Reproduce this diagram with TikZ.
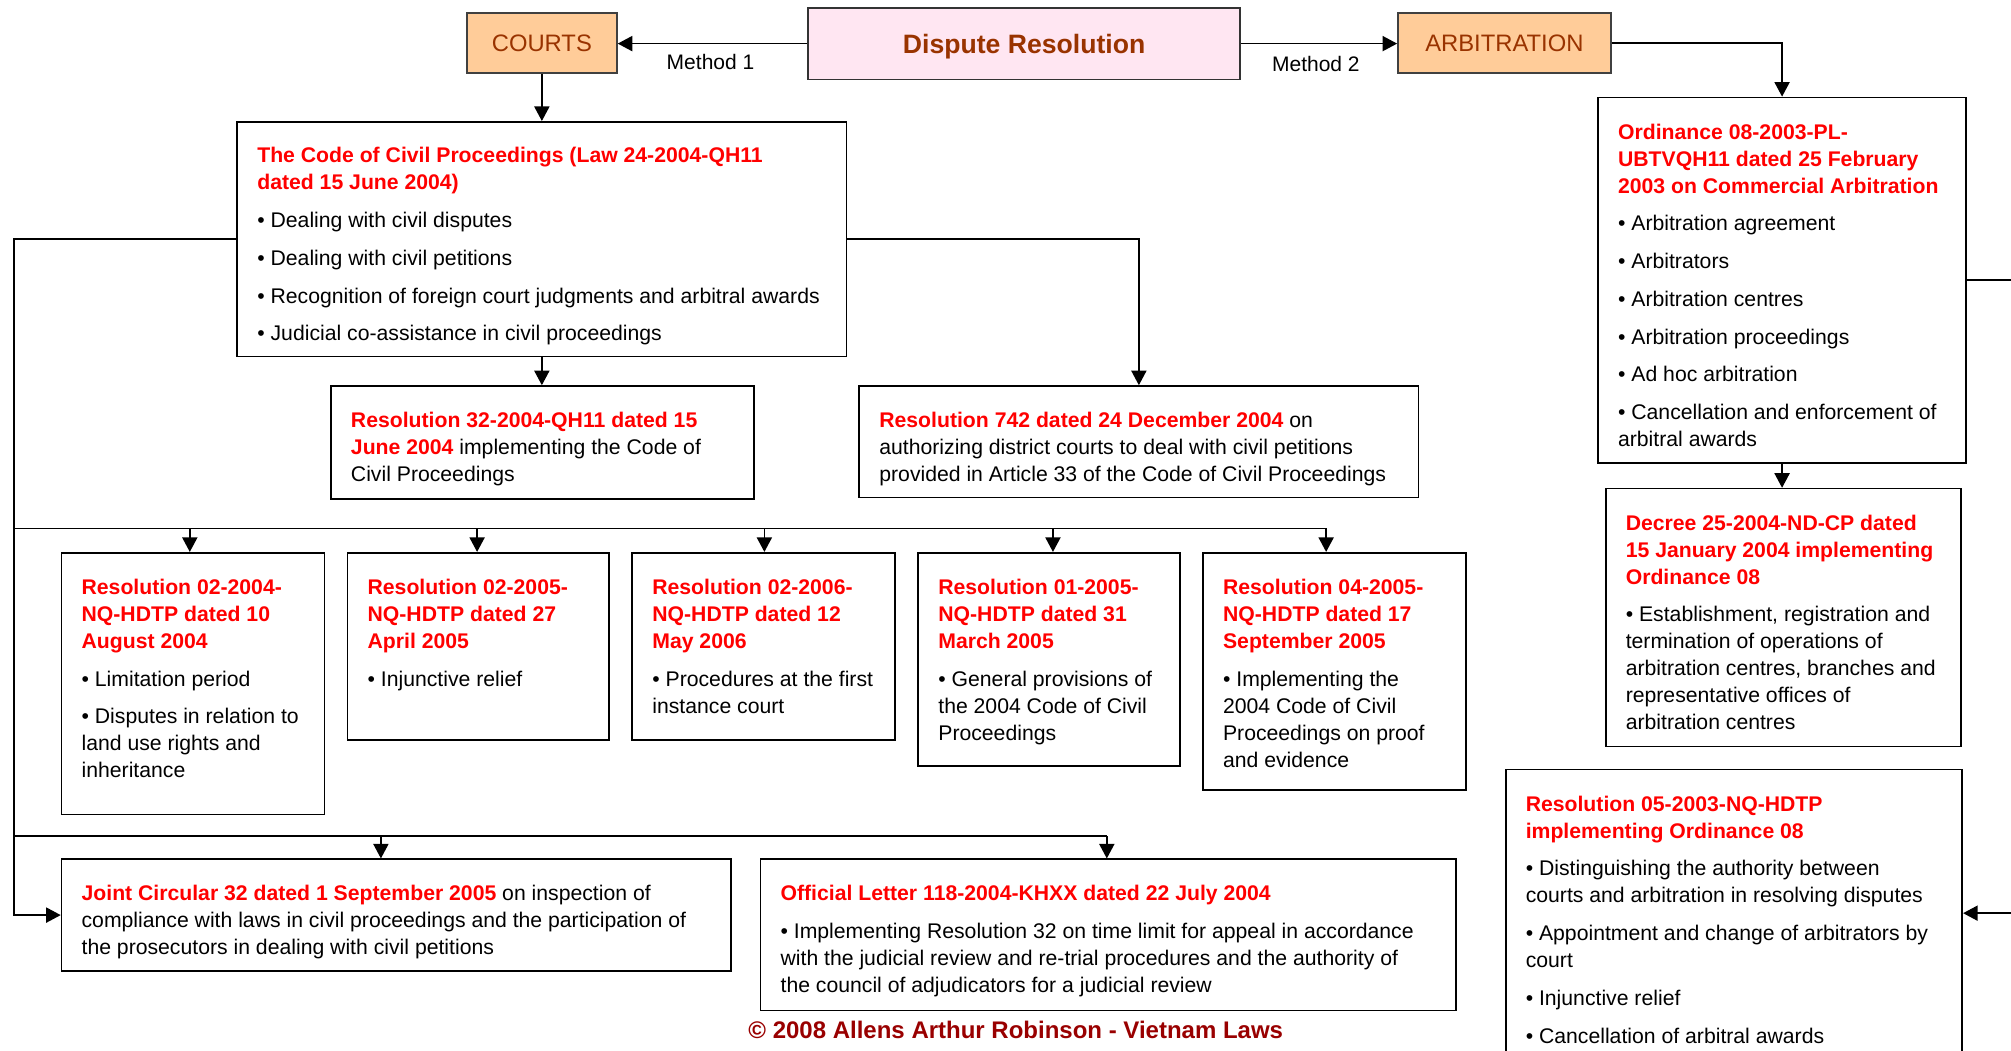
\documentclass[tikz,border=0pt]{standalone}
\usepackage{fontspec}
\setmainfont{Liberation Sans}
\usetikzlibrary{arrows.meta,fit,calc}
\definecolor{lawred}{HTML}{FF0000}
\definecolor{brownt}{HTML}{993300}
\definecolor{orangef}{HTML}{FFCC99}
\definecolor{pinkf}{HTML}{FFE6F2}
\definecolor{copyr}{HTML}{990000}
\newcommand{\redb}[1]{\textcolor{lawred}{\bfseries #1}}
\newcommand{\gp}{\\[5.4pt]}
\begin{document}
\begin{tikzpicture}[x=0.6413pt,y=-0.6413pt,
 box/.style={draw=black, line width=0.85pt, inner sep=0pt},
 hdr/.style={draw=black!75, line width=0.85pt, inner sep=0pt, fill=orangef, text=brownt, font=\fontsize{11.9pt}{14pt}\selectfont},
 txt/.style={inner sep=0pt, align=left, anchor=north west, font=\fontsize{10.6pt}{13.5pt}\selectfont},
 conn/.style={line width=0.75pt, draw=black},
 arr/.style={conn, -{Triangle[length=7.3pt,width=7.6pt]}},
 lbl/.style={font=\fontsize{10.5pt}{12pt}\selectfont, inner sep=0pt}]
\useasboundingbox (0,0) rectangle (1568,819);

% header boxes
\node[hdr, fit={(364,10) (481,57)}] (courts) {};
\node[font=\fontsize{11.9pt}{14pt}\selectfont, text=brownt] at (courts.center) {COURTS};
\node[box, draw=black!80, fill=pinkf, fit={(630,6) (967,62)}] (disp) {};
\node[font=\fontsize{13.3pt}{15pt}\selectfont\bfseries, text=brownt] at ($(disp.center)+(0,2.5)$) {Dispute Resolution};
\node[hdr, fit={(1090,10) (1256,57)}] (arb) {};
\node[font=\fontsize{11.9pt}{14pt}\selectfont, text=brownt] at (arb.center) {ARBITRATION};
\node[lbl] (m1lbl) at (554,48) {Method 1};
\node[lbl] (m2lbl) at (1026,50) {Method 2};

% courts branch boxes
\node[box, fit={(185,95) (660,278)}] (code) {};
\node[box, fit={(258,301) (588,389)}] (res32) {};
\node[box, fit={(670,301) (1106,388)}] (res742) {};
\node[box, fit={(48,431) (253,635)}] (b1) {};
\node[box, fit={(271,431) (475,577)}] (b2) {};
\node[box, fit={(493,431) (698,577)}] (b3) {};
\node[box, fit={(716,431) (920,597)}] (b4) {};
\node[box, fit={(938,431) (1143,616)}] (b5) {};
\node[box, fit={(48,670) (570,757)}] (joint) {};
\node[box, fit={(593,670) (1135,788)}] (off) {};

% arbitration branch boxes
\node[box, fit={(1246,76) (1533,361)}] (ord) {};
\node[box, fit={(1252,381) (1529,582)}] (dec) {};
\node[box, fit={(1174,600) (1530,824)}] (res05) {};

% texts
\node[txt] (codet) at ($(code.north west)+(16,17.5)$) {\strut\redb{The Code of Civil Proceedings (Law 24-2004-QH11}\\\redb{dated 15 June 2004)}\gp
• Dealing with civil disputes\gp
• Dealing with civil petitions\gp
• Recognition of foreign court judgments and arbitral awards\gp
• Judicial co-assistance in civil proceedings};
\node[txt] (res32t) at ($(res32.north west)+(16,18)$) {\strut\redb{Resolution 32-2004-QH11 dated 15}\\\redb{June 2004} implementing the Code of\\Civil Proceedings};
\node[txt] (res742t) at ($(res742.north west)+(16,18)$) {\strut\redb{Resolution 742 dated 24 December 2004} on\\authorizing district courts to deal with civil petitions\\provided in Article 33 of the Code of Civil Proceedings};
\node[txt] (b1t) at ($(b1.north west)+(16,18)$) {\strut\redb{Resolution 02-2004-}\\\redb{NQ-HDTP dated 10}\\\redb{August 2004}\gp
• Limitation period\gp
• Disputes in relation to\\land use rights and\\inheritance};
\node[txt] (b2t) at ($(b2.north west)+(16,18)$) {\strut\redb{Resolution 02-2005-}\\\redb{NQ-HDTP dated 27}\\\redb{April 2005}\gp
• Injunctive relief};
\node[txt] (b3t) at ($(b3.north west)+(16,18)$) {\strut\redb{Resolution 02-2006-}\\\redb{NQ-HDTP dated 12}\\\redb{May 2006}\gp
• Procedures at the first\\instance court};
\node[txt] (b4t) at ($(b4.north west)+(16,18)$) {\strut\redb{Resolution 01-2005-}\\\redb{NQ-HDTP dated 31}\\\redb{March 2005}\gp
• General provisions of\\the 2004 Code of Civil\\Proceedings};
\node[txt] (b5t) at ($(b5.north west)+(16,18)$) {\strut\redb{Resolution 04-2005-}\\\redb{NQ-HDTP dated 17}\\\redb{September 2005}\gp
• Implementing the\\2004 Code of Civil\\Proceedings on proof\\and evidence};
\node[txt] (jointt) at ($(joint.north west)+(16,18)$) {\strut\redb{Joint Circular 32 dated 1 September 2005} on inspection of\\compliance with laws in civil proceedings and the participation of\\the prosecutors in dealing with civil petitions};
\node[txt] (offt) at ($(off.north west)+(16,18)$) {\strut\redb{Official Letter 118-2004-KHXX dated 22 July 2004}\gp
• Implementing Resolution 32 on time limit for appeal in accordance\\with the judicial review and re-trial procedures and the authority of\\the council of adjudicators for a judicial review};
\node[txt] (ordt) at ($(ord.north west)+(16,18)$) {\strut\redb{Ordinance 08-2003-PL-}\\\redb{UBTVQH11 dated 25 February}\\\redb{2003 on Commercial Arbitration}\gp
• Arbitration agreement\gp
• Arbitrators\gp
• Arbitration centres\gp
• Arbitration proceedings\gp
• Ad hoc arbitration\gp
• Cancellation and enforcement of\\arbitral awards};
\node[txt] (dect) at ($(dec.north west)+(16,18)$) {\strut\redb{Decree 25-2004-ND-CP dated}\\\redb{15 January 2004 implementing}\\\redb{Ordinance 08}\gp
• Establishment, registration and\\termination of operations of\\arbitration centres, branches and\\representative offices of\\arbitration centres};
\node[txt] (res05t) at ($(res05.north west)+(16,18)$) {\strut\redb{Resolution 05-2003-NQ-HDTP}\\\redb{implementing Ordinance 08}\gp
• Distinguishing the authority between\\courts and arbitration in resolving disputes\gp
• Appointment and change of arbitrators by\\court\gp
• Injunctive relief\gp
• Cancellation of arbitral awards};

\node[font=\fontsize{12pt}{14pt}\selectfont\bfseries, text=copyr, inner sep=0pt] (copy) at (792,803) {© 2008 Allens Arthur Robinson - Vietnam Laws};

% connectors
\coordinate (trunk) at (11,187);
\coordinate (k1) at (148,412);
\coordinate (k2) at (372,412);
\coordinate (k3) at (596,412);
\coordinate (k4) at (821,412);
\coordinate (k5) at (1034,412);
\coordinate (n1) at (297,652);
\coordinate (n2) at (863,652);
\coordinate (offr) at (1590,218);

\draw[arr] (disp.west) -- (disp.west -| courts.east);
\draw[arr] (disp.east) -- (disp.east -| arb.west);
\draw[arr] (courts.south) -- (courts.south |- code.north);
\draw[arr] (code.south) -- (code.south |- res32.north);
\draw[arr] (code.east) -| (res742.north);
\draw[arr] (code.west) -- (code.west -| trunk) |- (joint.west);
\draw[conn] (trunk |- k1) -- (k5);
\draw[arr] (k1) -- (k1 |- b1.north);
\draw[arr] (k2) -- (k2 |- b2.north);
\draw[arr] (k3) -- (k3 |- b3.north);
\draw[arr] (k4) -- (k4 |- b4.north);
\draw[arr] (k5) -- (k5 |- b5.north);
\draw[conn] (trunk |- n1) -- (n2);
\draw[arr] (n1) -- (n1 |- joint.north);
\draw[arr] (n2) -- (n2 |- off.north);
\draw[arr] (arb.east) -| (ord.north);
\draw[arr] (ord.south) -- (ord.south |- dec.north);
\draw[arr] (ord.east) -- (ord.east -| offr) |- (res05.east);
\end{tikzpicture}
\end{document}
